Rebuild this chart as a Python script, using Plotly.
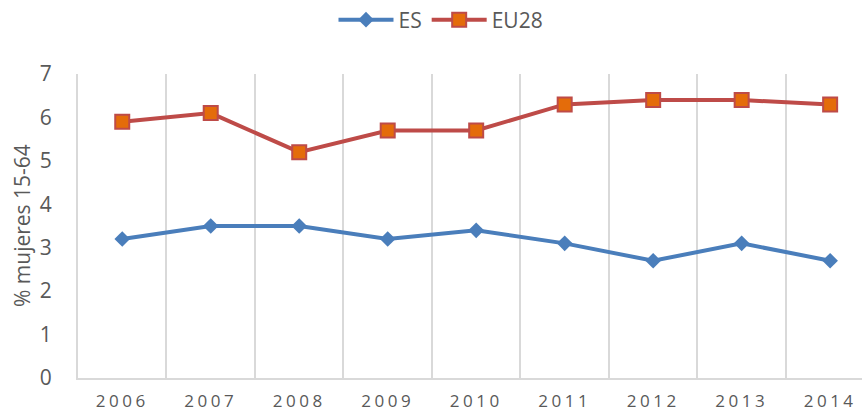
import plotly.graph_objects as go

years = ["2006", "2007", "2008", "2009", "2010", "2011", "2012", "2013", "2014"]
es = [3.2, 3.5, 3.5, 3.2, 3.4, 3.1, 2.7, 3.1, 2.7]
eu28 = [5.9, 6.1, 5.2, 5.7, 5.7, 6.3, 6.4, 6.4, 6.3]
y_ticks = [0, 1, 2, 3, 4, 5, 6, 7]
y_title = "% mujeres 15-64"

xpos = list(range(len(years)))
font_family = "Open Sans, Liberation Sans, sans-serif"
tick_text = ['<span style="letter-spacing:3.5px">' + y + '</span>' for y in years]

fig = go.Figure()
fig.add_trace(go.Scatter(
    x=xpos, y=es, name="ES", mode="lines+markers",
    line=dict(color="#4a7ebb", width=4),
    marker=dict(symbol="diamond", size=12, color="#4a7ebb", line=dict(width=0)),
))
fig.add_trace(go.Scatter(
    x=xpos, y=eu28, name="EU28", mode="lines+markers",
    line=dict(color="#be4b48", width=4),
    marker=dict(symbol="square", size=14, color="#e46c0a", line=dict(color="#be4b48", width=2)),
))

fig.update_layout(
    width=863, height=414,
    margin=dict(l=78, r=1, t=74, b=36, autoexpand=False),
    paper_bgcolor="white", plot_bgcolor="white",
    font=dict(family=font_family, color="#595959"),
    legend=dict(orientation="h", xref="container", yref="container",
                x=0.511, xanchor="center", y=1 - 20 / 414, yanchor="middle",
                font=dict(size=21, color="#595959"), itemwidth=55, tracegroupgap=0),
    xaxis=dict(
        range=[-0.5, 8.36], tickmode="array", tickvals=xpos, ticktext=tick_text,
        showgrid=False, zeroline=False, showline=True, linecolor="#d9d9d9", linewidth=2,
        ticks="", tickfont=dict(size=17, color="#595959"), ticklabelstandoff=7,
        automargin=False,
        minor=dict(tickmode="array", tickvals=[i + 0.5 for i in range(8)], showgrid=True,
                   gridcolor="#d9d9d9", gridwidth=2, ticks=""),
    ),
    yaxis=dict(
        range=[0, 7], tickmode="array", tickvals=y_ticks,
        showgrid=False, zeroline=False, showline=True, linecolor="#d9d9d9", linewidth=2,
        ticks="", tickfont=dict(size=21, color="#595959"), ticklabelstandoff=20,
        automargin=False,
    ),
    annotations=[dict(
        text=y_title, textangle=-90, showarrow=False,
        xref="paper", yref="paper", x=(22 - 78) / 784, y=0.5,
        xanchor="center", yanchor="middle",
        font=dict(size=21, color="#595959"),
    )],
)

fig.write_html("out.html", config={"displayModeBar": False},
               post_script="document.body.style.margin='0';document.body.style.overflow='hidden';")
